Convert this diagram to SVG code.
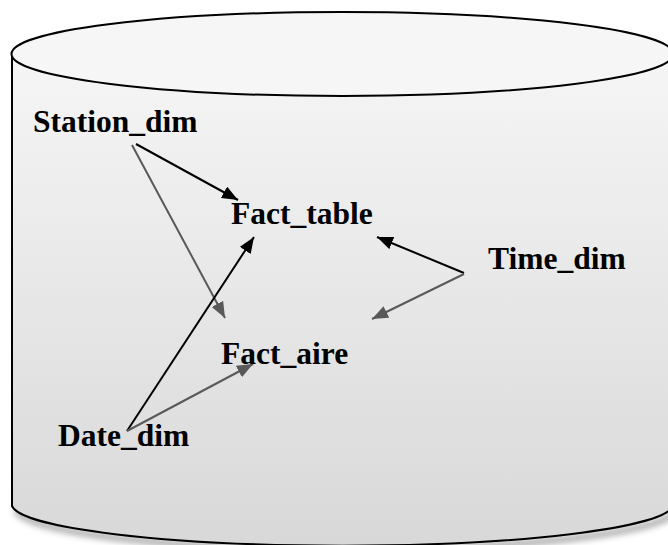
<svg xmlns="http://www.w3.org/2000/svg" width="668" height="545" viewBox="0 0 668 545">
  <defs>
    <linearGradient id="bodyFill" x1="0" y1="12" x2="0" y2="548" gradientUnits="userSpaceOnUse">
      <stop offset="0" stop-color="#f8f8f8"/>
      <stop offset="1" stop-color="#d8d8d8"/>
    </linearGradient>
    <filter id="softShadow" x="-10%" y="-10%" width="120%" height="130%">
      <feGaussianBlur stdDeviation="3"/>
    </filter>
    <marker id="headBlack" markerUnits="userSpaceOnUse" markerWidth="16" markerHeight="13" refX="16" refY="6.5" orient="auto">
      <path d="M0,0 L16,6.5 L0,13 z" fill="#000"/>
    </marker>
    <marker id="headGray" markerUnits="userSpaceOnUse" markerWidth="16" markerHeight="13" refX="16" refY="6.5" orient="auto">
      <path d="M0,0 L16,6.5 L0,13 z" fill="#595959"/>
    </marker>
  </defs>
  <style>
    .label { font-family: "Liberation Serif", "Times New Roman", serif; font-weight: bold; font-size: 31.5px; fill: #000; }
    .link-main { stroke: #000; stroke-width: 2; fill: none; marker-end: url(#headBlack); }
    .link-aux { stroke: #595959; stroke-width: 2; fill: none; marker-end: url(#headGray); }
  </style>

  <rect width="668" height="545" fill="#ffffff"/>

  <!-- database cylinder -->
  <g id="database">
    <path d="M16,510 A331,42 0 0 0 677,510" fill="none" stroke="#000" stroke-opacity="0.35" stroke-width="6" filter="url(#softShadow)"/>
    <path d="M12,54 L12,506 A331,42 0 0 0 673,506 L673,54 Z" fill="url(#bodyFill)" stroke="#000" stroke-width="2"/>
    <ellipse cx="342.5" cy="54" rx="331" ry="42" fill="#f6f6f6" stroke="#000" stroke-width="2"/>
  </g>

  <!-- connectors -->
  <g id="connectors">
    <line class="link-main" x1="136" y1="144" x2="238" y2="200"/>
    <line class="link-aux" x1="132" y1="145" x2="225" y2="318"/>
    <line class="link-main" x1="127" y1="431" x2="254" y2="237"/>
    <line class="link-aux" x1="127" y1="431" x2="253" y2="364"/>
    <line class="link-main" x1="464" y1="273" x2="377" y2="237"/>
    <line class="link-aux" x1="464" y1="274" x2="372" y2="319"/>
  </g>

  <g id="station_dim"><text class="label" x="33" y="132">Station_dim</text></g>
  <g id="fact_table"><text class="label" x="231" y="224">Fact_table</text></g>
  <g id="time_dim"><text class="label" x="488" y="269">Time_dim</text></g>
  <g id="fact_aire"><text class="label" x="221" y="364">Fact_aire</text></g>
  <g id="date_dim"><text class="label" x="58" y="446">Date_dim</text></g>
</svg>
